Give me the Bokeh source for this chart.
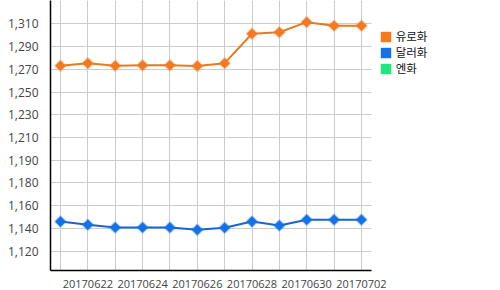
import math
from bokeh.plotting import figure
from bokeh.models import FixedTicker, Legend, LegendItem, ColumnDataSource, BoxAnnotation
from bokeh.embed import file_html
from bokeh.resources import INLINE

dates = ["20170621", "20170622", "20170623", "20170624", "20170625", "20170626",
         "20170627", "20170628", "20170629", "20170630", "20170701", "20170702"]
eur = [1274.9, 1277.1, 1274.9, 1275.4, 1275.4, 1274.8,
       1277.1, 1301.7, 1303.0, 1311.4, 1308.4, 1308.4]
usd = [1144.7, 1142.0, 1139.7, 1139.7, 1139.7, 1137.8,
       1139.5, 1144.7, 1141.4, 1146.2, 1146.2, 1146.2]
series_names = ["유로화", "달러화", "엔화"]
series_colors = ["#f47920", "#1472e6", "#1de97a"]
y_tick_values = [1120, 1139, 1158, 1177, 1196, 1215, 1234, 1253, 1272, 1291, 1310]
y_tick_labels = ["1,120", "1,140", "1,160", "1,180", "1,190", "1,210",
                 "1,230", "1,250", "1,270", "1,290", "1,310"]

idx = list(range(len(dates)))
nan = float("nan")
x_lo, x_hi = -0.365, 11.37            # plotted data area
x_full = x_lo + 450 / 27.36           # frame extends under the legend

p = figure(width=500, height=290, output_backend="svg", toolbar_location=None,
           x_range=(x_lo, x_full), y_range=(1103.8, 1329.5),
           min_border_left=50, min_border_right=0, min_border_top=0,
           min_border_bottom=20)
p.outline_line_color = None
p.background_fill_color = "white"
p.border_fill_color = "white"

src_e = ColumnDataSource(dict(x=idx, y=eur))
src_u = ColumnDataSource(dict(x=idx, y=usd))
p.line("x", "y", source=src_e, line_color="#e57a22", line_width=2)
p.scatter("x", "y", source=src_e, marker="square", size=7.5, angle=math.pi / 4,
          fill_color=series_colors[0], line_color=series_colors[0], line_alpha=0.35, line_width=2)
p.line("x", "y", source=src_u, line_color="#1a64d0", line_width=2)
p.scatter("x", "y", source=src_u, marker="square", size=7.5, angle=math.pi / 4,
          fill_color=series_colors[1], line_color=series_colors[1], line_alpha=0.35, line_width=2)

# white area right of the plotting region (hides grid lines under the legend)
p.add_layout(BoxAnnotation(left=x_hi, fill_color="white", fill_alpha=1.0,
                           line_color=None, level="underlay"))

# legend swatches
items = []
for name, col in zip(series_names, series_colors):
    r = p.quad(left=[nan], right=[nan], top=[nan], bottom=[nan], fill_color=col, line_color=None)
    items.append(LegendItem(label=name, renderers=[r]))
legend = Legend(items=items, location=(328.7, 194), padding=0, margin=0,
                spacing=0, glyph_width=13, glyph_height=13, label_height=13,
                label_standoff=4, label_text_font="Noto Sans CJK KR",
                label_text_font_size="11.5px", label_text_color="#111111",
                border_line_color=None, background_fill_alpha=0)
p.add_layout(legend, "center")

# axes
p.xaxis.ticker = FixedTicker(ticks=idx)
p.xaxis.bounds = (x_lo, x_hi)
p.xaxis.major_label_overrides = {i: (d if i % 2 == 1 else "") for i, d in enumerate(dates)}
p.yaxis.ticker = FixedTicker(ticks=y_tick_values)
p.yaxis.major_label_overrides = {v: l for v, l in zip(y_tick_values, y_tick_labels)}
for ax in (p.xaxis[0], p.yaxis[0]):
    ax.axis_line_color = "#000000"
    ax.axis_line_width = 1.5
    ax.major_tick_line_color = None
    ax.minor_tick_line_color = None
    ax.major_label_text_font = "Open Sans"
    ax.major_label_text_color = "#444444"
p.xaxis.major_label_text_font_size = "11px"
p.yaxis.major_label_text_font_size = "12px"
p.xaxis.major_label_standoff = 3
p.yaxis.major_label_standoff = 6
p.xgrid.grid_line_color = "#cccccc"
p.ygrid.grid_line_color = "#cccccc"

open("out.html", "w").write(file_html(p, INLINE))
